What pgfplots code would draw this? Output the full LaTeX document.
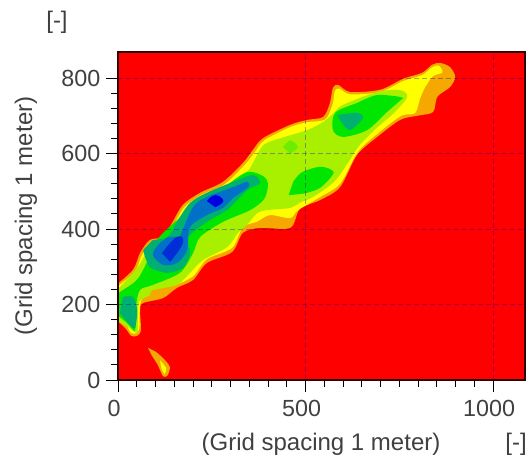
\documentclass[border=0pt]{standalone}
\usepackage{fontspec}
\setmainfont{Liberation Sans}
\usepackage{pgfplots}
\pgfplotsset{compat=1.18}
\definecolor{cO}{HTML}{F5A800}
\definecolor{cY}{HTML}{FFFF00}
\definecolor{cL}{HTML}{A8F000}
\definecolor{cG}{HTML}{00E600}
\definecolor{cT}{HTML}{00B070}
\definecolor{cB}{HTML}{0070C8}
\definecolor{cD}{HTML}{0000E0}
\definecolor{txt}{HTML}{404040}
\begin{document}
\begin{tikzpicture}[x=0.75pt,y=0.75pt]
\path[use as bounding box] (-118,-79) rectangle (409,380);
\begin{axis}[
  at={(0,0)},anchor=south west,
  scale only axis,width=305.25pt,height=246pt,
  xmin=0,xmax=1085,ymin=0,ymax=869,
  axis background/.style={fill=red},
  axis line style={draw=black!80!red,line width=0.8pt},
  tick align=outside,tick pos=left,
  xtick={0,500,1000},ytick={0,200,400,600,800},
  minor x tick num=9,minor y tick num=4,
  major tick length=9pt,minor tick length=5.25pt,
  tick style={black,line width=0.7pt},
  grid=major,
  major grid style={color=black!30!blue,opacity=0.35,line width=0.75pt,dash pattern=on 3.4pt off 2.6pt},
  axis on top,
  ticklabel style={font=\fontsize{17.5}{20}\selectfont,text=txt},
  /pgf/number format/assume math mode=true,
  /pgf/number format/1000 sep={},
  tick label style={inner sep=0pt},
  xticklabel shift=6pt,yticklabel shift=4pt,
  xticklabel style={xshift=-3pt},
]
\addplot[fill=cO,draw=none,smooth,tension=.5] coordinates {(-5,159)(19,138)(35,117)(51,117)(61,132)(59,186)(67,204)(120,217)(157,244)(200,265)(237,310)(304,339)(333,390)(379,403)(459,403)(485,453)(539,477)(592,511)(637,596)(691,644)(752,689)(797,700)(840,710)(851,750)(885,776)(899,803)(885,829)(859,840)(837,835)(811,814)(760,798)(699,769)(619,763)(587,782)(573,774)(565,734)(547,697)(504,689)(459,676)(387,641)(360,610)(333,575)(280,525)(219,496)(173,464)(144,416)(120,379)(85,371)(59,337)(40,292)(-5,252)} -- cycle;
\addplot[fill=cY,draw=none,smooth,tension=.5] coordinates {(-5,165)(22,145)(35,125)(49,124)(57,140)(59,200)(70,225)(85,243)(147,250)(200,275)(237,320)(304,350)(333,405)(370,419)(405,437)(459,429)(480,450)(539,485)(592,520)(640,605)(695,655)(755,700)(792,707)(805,745)(819,776)(840,805)(865,815)(855,833)(837,828)(811,808)(760,792)(699,763)(619,757)(590,772)(578,765)(572,730)(552,690)(504,683)(459,670)(390,635)(365,604)(338,570)(285,519)(222,490)(177,458)(149,411)(125,373)(90,365)(64,331)(45,287)(-5,245)} -- cycle;
\addplot[fill=cO,draw=none] coordinates {(206,366)(219,379)(232,366)(219,353)} -- cycle;
\addplot[fill=cL,draw=none,smooth,tension=.5] coordinates {(-5,159)(27,140)(51,125)(53,159)(56,207)(85,225)(93,238)(157,252)(192,284)(227,318)(291,352)(320,390)(344,411)(371,442)(397,450)(459,456)(485,470)(520,485)(576,525)(613,575)(640,617)(683,662)(736,708)(771,750)(752,768)(691,763)(600,729)(576,708)(547,684)(504,662)(397,628)(371,596)(344,551)(280,511)(210,482)(165,432)(131,379)(85,352)(53,299)(5,246)(-5,240)} -- cycle;
\addplot[fill=cG,draw=none,smooth,tension=.5] coordinates {(-5,175)(25,150)(45,130)(47,165)(50,210)(60,240)(93,252)(165,284)(200,336)(219,379)(280,419)(352,450)(390,480)(400,520)(387,540)(344,551)(280,510)(210,475)(165,430)(131,400)(93,358)(77,312)(50,265)(5,233)(-5,225)} -- cycle;
\addplot[fill=cG,draw=none,smooth,tension=.5] coordinates {(752,750)(691,755)(637,734)(579,708)(573,662)(600,644)(664,662)(717,710)(760,747)} -- cycle;
\addplot[fill=cG,draw=none,smooth,tension=.5] coordinates {(455,490)(500,495)(540,510)(575,550)(540,565)(490,550)(467,525)} -- cycle;
\addplot[fill=cL!65!cG,draw=none,smooth,tension=.5] coordinates {(440,617)(459,635)(480,617)(459,600)} -- cycle;
\addplot[fill=cT,draw=none,smooth,tension=.5] coordinates {(13,220)(40,220)(51,186)(45,138)(27,151)(5,178)} -- cycle;
\addplot[fill=cT,draw=none,smooth,tension=.5] coordinates {(67,344)(85,299)(131,284)(173,297)(192,336)(187,379)(245,424)(291,450)(344,503)(379,522)(360,543)(307,525)(237,496)(192,469)(157,419)(133,379)(93,371)} -- cycle;
\addplot[fill=cT,draw=none,smooth,tension=.5] coordinates {(584,702)(637,708)(653,694)(619,662)(597,681)} -- cycle;
\addplot[fill=cB,draw=none,smooth,tension=.5] coordinates {(165,379)(200,458)(237,485)(307,511)(344,525)(347,511)(307,482)(280,456)(237,437)(192,405)(184,344)(157,310)(120,305)(93,331)(107,358)(133,379)} -- cycle;
\addplot[fill=cD,draw=none,smooth,tension=.8] coordinates {(237,474)(259,490)(281,474)(259,458)} -- cycle;
\addplot[fill=cD!60!cB,draw=none,smooth,tension=.8] coordinates {(117,336)(157,379)(173,363)(139,313)} -- cycle;
\addplot[fill=cO,draw=none,smooth,tension=.5] coordinates {(80,85)(100,75)(120,58)(138,35)(132,12)(120,10)(106,40)(90,65)} -- cycle;
\addplot[fill=cY,draw=none,smooth,tension=.5] coordinates {(112,52)(128,32)(124,16)(116,30)} -- cycle;
\end{axis}
\tikzset{lab/.style={font=\fontsize{18}{20}\selectfont,text=txt,inner sep=0pt}}
\node[lab,rotate=90] at (-92,164) {(Grid spacing 1 meter)};
\node[lab] at (203,-64) {(Grid spacing 1 meter)};
\node[lab] at (398,-64) {[-]};
\node[lab] at (-61,358) {[-]};
\end{tikzpicture}
\end{document}
